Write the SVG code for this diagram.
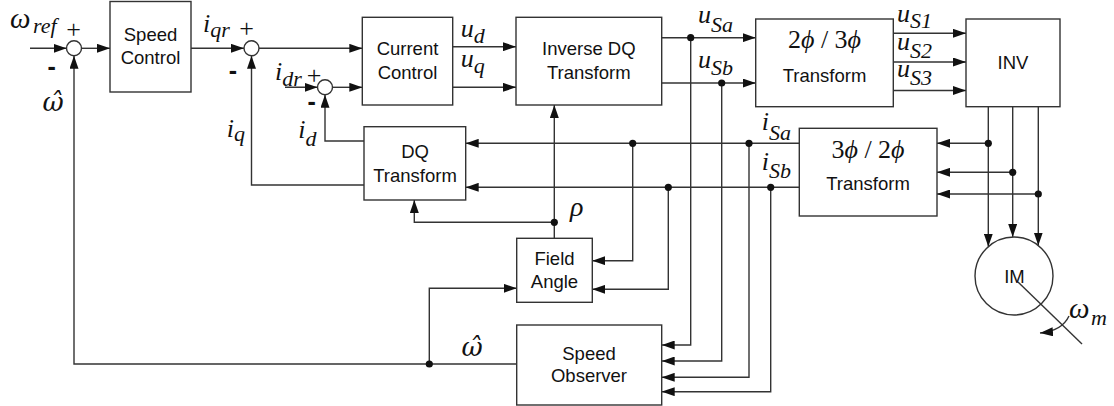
<svg xmlns="http://www.w3.org/2000/svg" width="1114" height="406" viewBox="0 0 1114 406">
<style>
.box{fill:#fff;stroke:#333;stroke-width:1.4}
.ln{fill:none;stroke:#333;stroke-width:1.4}
.arr{marker-end:url(#ah)}
.t{font-family:"Liberation Sans",Arial,sans-serif;font-size:18.5px;fill:#111;text-anchor:middle}
.m{font-family:"Liberation Serif","Times New Roman",serif;font-style:italic;font-size:26px;fill:#111}
.g{font-family:"Liberation Serif","Times New Roman",serif;font-style:italic;font-size:29px;fill:#111}
.gh{font-family:"DejaVu Serif",serif;font-style:italic;font-size:26px;fill:#111}
.s{font-size:22px}
.r{font-family:"Liberation Serif","Times New Roman",serif;font-style:normal;font-size:26px;fill:#111}
.pl{font-family:"Liberation Serif","Times New Roman",serif;font-size:26px;fill:#111;text-anchor:middle}
.mi{font-family:"Liberation Sans",Arial,sans-serif;font-weight:bold;font-size:25px;fill:#111;text-anchor:middle}
.dot{fill:#111}
</style>
<defs>
<marker id="ah" markerUnits="userSpaceOnUse" markerWidth="13" markerHeight="9" refX="13" refY="4.5" orient="auto">
<path d="M0,0 L13,4.5 L0,9 z" fill="#111"/>
</marker>
</defs>

<g id="connectors">
<path class="ln arr" d="M30,48.3 H66.5"/>
<path class="ln arr" d="M81.5,48.3 H110"/>
<path class="ln arr" d="M191,48.3 H244"/>
<path class="ln arr" d="M259,48.3 H362.3"/>
<path class="ln arr" d="M285,87.3 H317.5"/>
<path class="ln arr" d="M332.5,87.3 H362.3"/>
<path class="ln arr" d="M364,141 H325 V94.8"/>
<path class="ln arr" d="M364,185 H251.5 V55.8"/>
<path class="ln arr" d="M516.7,364 H74 V55.8"/>
<path class="ln arr" d="M452.7,46.7 H516"/>
<path class="ln arr" d="M452.7,87.3 H516"/>
<path class="ln arr" d="M661.7,37.7 H755.7"/>
<path class="ln arr" d="M661.7,83 H755.7"/>
<path class="ln arr" d="M893.3,33.3 H966"/>
<path class="ln arr" d="M893.3,62 H966"/>
<path class="ln arr" d="M893.3,90.5 H966"/>
<path class="ln arr" d="M988.3,106.7 V246.7"/>
<path class="ln arr" d="M1012.7,106.7 V237"/>
<path class="ln arr" d="M1038.3,106.7 V245.5"/>
<path class="ln arr" d="M988.3,143.3 H937"/>
<path class="ln arr" d="M1012.7,172.3 H937"/>
<path class="ln arr" d="M1038.3,194 H937"/>
<path class="ln arr" d="M799.3,143.3 H465.7"/>
<path class="ln arr" d="M799.3,187.3 H465.7"/>
<path class="ln arr" d="M632.7,143.3 V260.7 H592.3"/>
<path class="ln arr" d="M668.3,187.3 V289.3 H592.3"/>
<path class="ln arr" d="M690.7,37.7 V345 H661.7"/>
<path class="ln arr" d="M721.7,83 V361 H661.7"/>
<path class="ln arr" d="M749,143.3 V377.3 H661.7"/>
<path class="ln arr" d="M770.7,187.3 V391.7 H661.7"/>
<path class="ln arr" d="M554.3,238.3 V105"/>
<path class="ln arr" d="M554.3,222.3 H414.3 V200"/>
<path class="ln arr" d="M429.3,364 V288.3 H516.7"/>
<path class="ln" d="M1018,282 L1082,344"/>
<path class="ln arr" d="M1069,316 Q1062,331 1040,333"/>
<circle class="dot" cx="690.7" cy="37.7" r="3.6"/>
<circle class="dot" cx="721.7" cy="83" r="3.6"/>
<circle class="dot" cx="632.7" cy="143.3" r="3.6"/>
<circle class="dot" cx="749" cy="143.3" r="3.6"/>
<circle class="dot" cx="668.3" cy="187.3" r="3.6"/>
<circle class="dot" cx="770.7" cy="187.3" r="3.6"/>
<circle class="dot" cx="988.3" cy="143.3" r="3.6"/>
<circle class="dot" cx="1012.7" cy="172.3" r="3.6"/>
<circle class="dot" cx="1038.3" cy="194" r="3.6"/>
<circle class="dot" cx="554.3" cy="222.3" r="3.6"/>
<circle class="dot" cx="429.3" cy="364" r="3.6"/>
</g>

<g id="sum1">
<circle class="box" cx="74" cy="48.3" r="7.5"/>
<text class="pl" x="73.5" y="38">+</text>
<text class="mi" x="51.7" y="75">-</text>
</g>
<g id="sum2">
<circle class="box" cx="251.5" cy="48.3" r="7.5"/>
<text class="pl" x="246.7" y="36.5">+</text>
<text class="mi" x="233" y="78.5">-</text>
</g>
<g id="sum3">
<circle class="box" cx="325" cy="87.3" r="7.5"/>
<text class="pl" x="314" y="83.5">+</text>
<text class="mi" x="311.7" y="110">-</text>
</g>

<g id="speed-control">
<rect class="box" x="110" y="1.5" width="81" height="90.5"/>
<text class="t" x="150.5" y="41">Speed</text>
<text class="t" x="150.5" y="64">Control</text>
</g>
<g id="current-control">
<rect class="box" x="362.3" y="17.3" width="90.4" height="87.7"/>
<text class="t" x="407.5" y="55">Current</text>
<text class="t" x="407.5" y="78.5">Control</text>
</g>
<g id="inverse-dq">
<rect class="box" x="516" y="17.3" width="145.7" height="87.7"/>
<text class="t" x="588.8" y="55">Inverse DQ</text>
<text class="t" x="588.8" y="79">Transform</text>
</g>
<g id="t2to3">
<rect class="box" x="755.7" y="19" width="137.6" height="87.7"/>
<text class="r" x="824.5" y="48.3" text-anchor="middle">2<tspan font-style="italic">ϕ</tspan> / 3<tspan font-style="italic">ϕ</tspan></text>
<text class="t" x="824.5" y="81.7">Transform</text>
</g>
<g id="inv">
<rect class="box" x="966" y="19" width="94" height="87.7"/>
<text class="t" x="1013" y="69">INV</text>
</g>
<g id="dq-transform">
<rect class="box" x="364" y="126.7" width="101.7" height="73.3"/>
<text class="t" x="415" y="158.3">DQ</text>
<text class="t" x="415" y="181.7">Transform</text>
</g>
<g id="t3to2">
<rect class="box" x="799.3" y="128.3" width="137.7" height="87.7"/>
<text class="r" x="868" y="158.3" text-anchor="middle">3<tspan font-style="italic">ϕ</tspan> / 2<tspan font-style="italic">ϕ</tspan></text>
<text class="t" x="868" y="190">Transform</text>
</g>
<g id="field-angle">
<rect class="box" x="516.7" y="238.3" width="75.6" height="64"/>
<text class="t" x="554.5" y="265">Field</text>
<text class="t" x="554.5" y="288.3">Angle</text>
</g>
<g id="speed-observer">
<rect class="box" x="516.7" y="325" width="145" height="80"/>
<text class="t" x="589" y="360">Speed</text>
<text class="t" x="589" y="381.7">Observer</text>
</g>
<g id="im">
<circle class="box" cx="1014" cy="276" r="39" style="fill:none"/>
<text class="t" x="1014.5" y="283">IM</text>
</g>

<g id="labels">
<text class="g" x="10" y="28">ω</text>
<text class="m s" x="33" y="33">ref</text>
<text class="gh" x="53" y="111" text-anchor="middle">ω̂</text>
<text class="m" x="203" y="32">i<tspan class="s" dy="5">qr</tspan></text>
<text class="m" x="226.7" y="137">i<tspan class="s" dy="4">q</tspan></text>
<text class="m" x="275" y="80">i<tspan class="s" dy="6">dr</tspan></text>
<text class="m" x="298.3" y="138">i<tspan class="s" dy="8">d</tspan></text>
<text class="m" x="460.7" y="36.7">u<tspan class="s" dy="6">d</tspan></text>
<text class="m" x="460.7" y="66.7">u<tspan class="s" dy="6">q</tspan></text>
<text class="m" x="698" y="23">u<tspan class="s" dy="9">Sa</tspan></text>
<text class="m" x="698" y="68">u<tspan class="s" dy="7">Sb</tspan></text>
<text class="m" x="897" y="22">u<tspan class="s" dy="6">S1</tspan></text>
<text class="m" x="897" y="50">u<tspan class="s" dy="8">S2</tspan></text>
<text class="m" x="897" y="77">u<tspan class="s" dy="8">S3</tspan></text>
<text class="m" x="761.7" y="130">i<tspan class="s" dy="10">Sa</tspan></text>
<text class="m" x="761.7" y="170">i<tspan class="s" dy="8">Sb</tspan></text>
<text class="m" x="570" y="216" style="font-size:28px">ρ</text>
<text class="gh" x="472" y="356" text-anchor="middle">ω̂</text>
<text class="g" x="1069" y="318">ω</text>
<text class="m s" x="1091" y="325">m</text>
</g>
</svg>
